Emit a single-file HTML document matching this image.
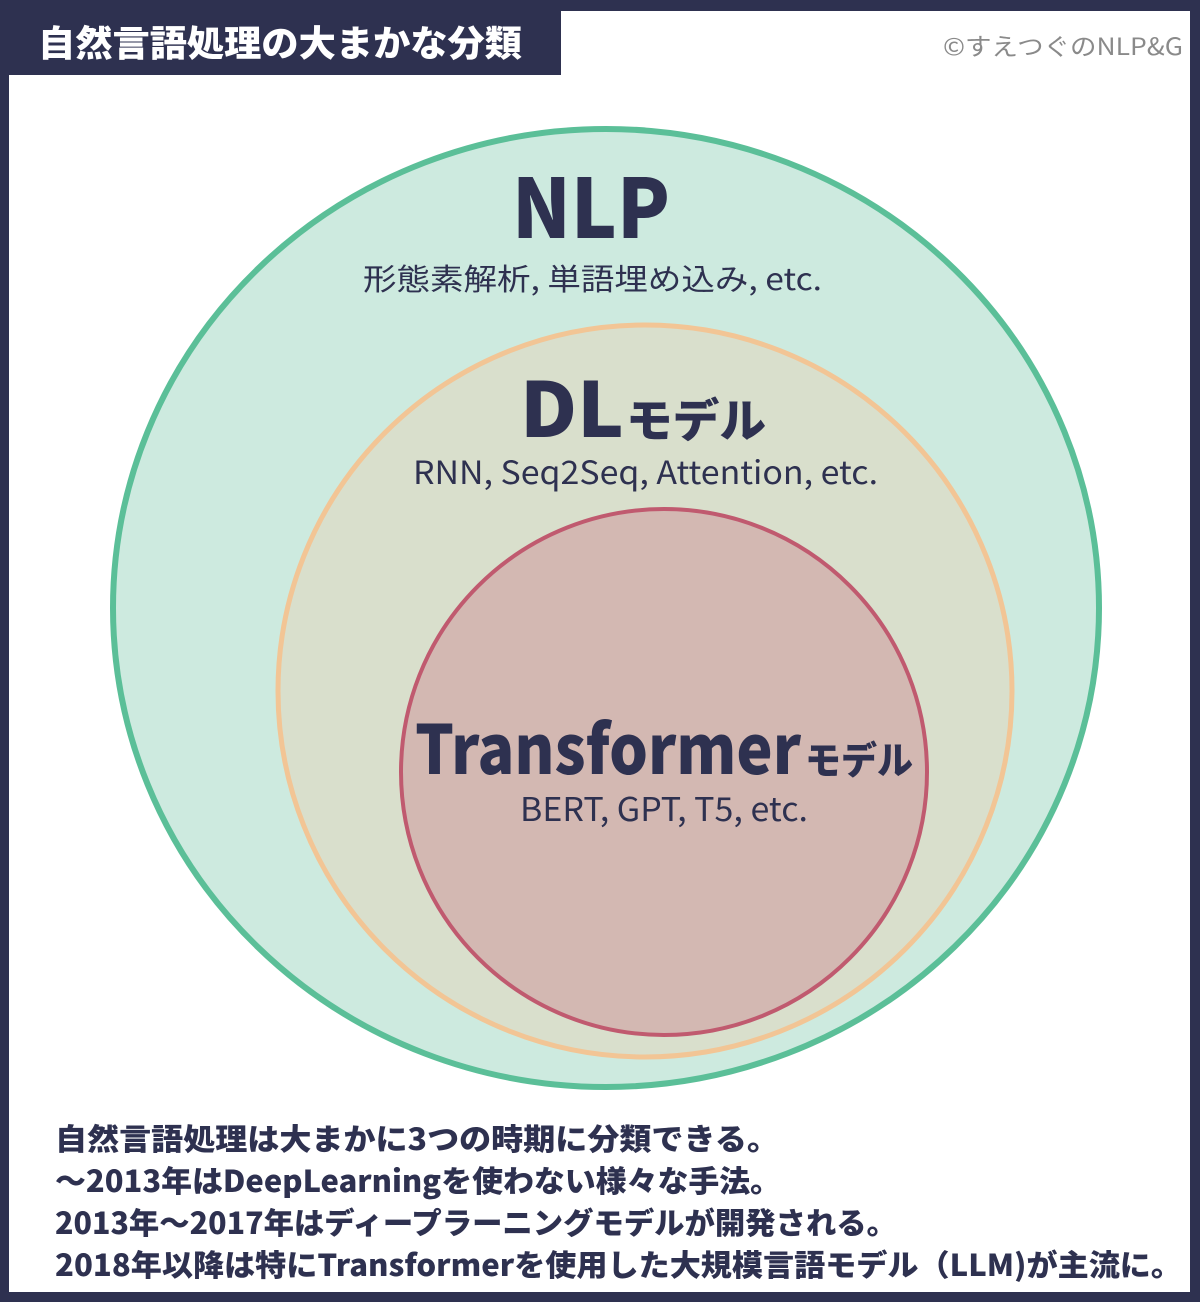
<!DOCTYPE html>
<html><head><meta charset="utf-8"><style>
html,body{margin:0;padding:0;background:#fff}
svg{display:block}
text{font-family:"Noto Sans CJK JP","Liberation Sans",sans-serif;fill:#2e3150}
</style></head><body>
<svg width="1200" height="1302" viewBox="0 0 1200 1302" xmlns="http://www.w3.org/2000/svg">
<rect x="0" y="0" width="1200" height="1302" fill="#2e3150"/>
<rect x="9" y="11" width="1181" height="1281" fill="#ffffff"/>
<rect x="0" y="0" width="561" height="75" fill="#2e3150"/>
<text x="38" y="56" font-size="36" font-weight="900" style="fill:#fff" textLength="484" lengthAdjust="spacingAndGlyphs">自然言語処理の大まかな分類</text>
<text x="943" y="55" font-size="24" style="fill:#8a8a8a" textLength="240" lengthAdjust="spacingAndGlyphs">©すえつぐのNLP&amp;G</text>

<ellipse cx="606" cy="608" rx="493" ry="479" fill="#cdeadf" stroke="#5bbf98" stroke-width="6"/>
<ellipse cx="645" cy="691" rx="367" ry="366" fill="#d9dfcc" stroke="#f2c595" stroke-width="5"/>
<ellipse cx="664" cy="772" rx="263" ry="263" fill="#d3b8b2" stroke="#c05a6f" stroke-width="4"/>

<text x="512" y="238" font-size="82" font-weight="900" textLength="158" lengthAdjust="spacingAndGlyphs">NLP</text>
<text x="363" y="290" font-size="30" textLength="459" lengthAdjust="spacingAndGlyphs">形態素解析, 単語埋め込み, etc.</text>
<text x="520" y="437" font-size="76" font-weight="900" textLength="104" lengthAdjust="spacingAndGlyphs">DL</text>
<text x="626" y="437" font-size="46" font-weight="900" textLength="140" lengthAdjust="spacingAndGlyphs">モデル</text>
<text x="413" y="484" font-size="32" textLength="465" lengthAdjust="spacingAndGlyphs">RNN, Seq2Seq, Attention, etc.</text>
<text x="415" y="774" font-size="68" font-weight="900" textLength="386" lengthAdjust="spacingAndGlyphs">Transformer</text>
<text x="805" y="774" font-size="38" font-weight="900" textLength="108" lengthAdjust="spacingAndGlyphs">モデル</text>
<text x="520" y="821" font-size="33" textLength="288" lengthAdjust="spacingAndGlyphs">BERT, GPT, T5, etc.</text>

<g font-weight="900" font-size="30">
<text x="55" y="1150" textLength="724" lengthAdjust="spacingAndGlyphs">自然言語処理は大まかに3つの時期に分類できる。</text>
<text x="55" y="1192" textLength="726" lengthAdjust="spacingAndGlyphs">〜2013年はDeepLearningを使わない様々な手法。</text>
<text x="55" y="1234" textLength="842" lengthAdjust="spacingAndGlyphs">2013年〜2017年はディープラーニングモデルが開発される。</text>
<text x="55" y="1276" textLength="1127" lengthAdjust="spacingAndGlyphs">2018年以降は特にTransformerを使用した大規模言語モデル（LLM)が主流に。</text>
</g>
</svg>
</body></html>
